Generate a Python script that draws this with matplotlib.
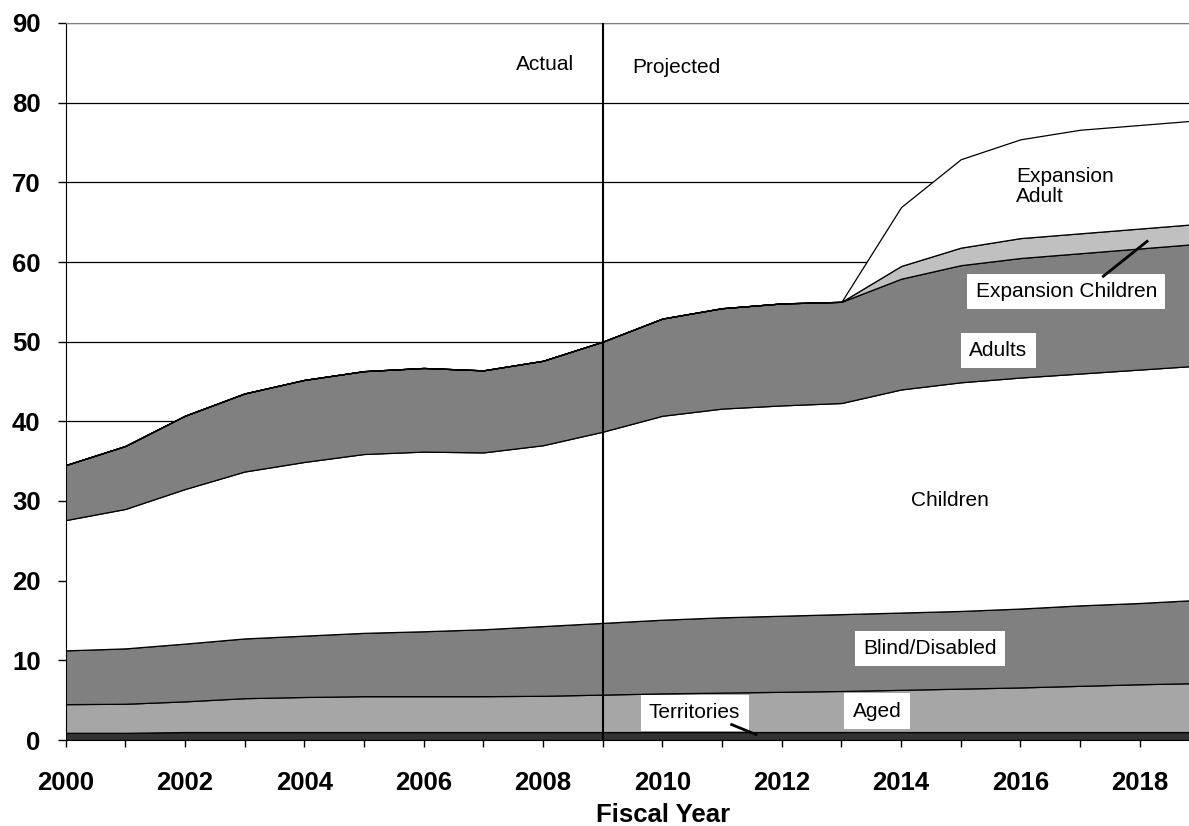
import matplotlib
matplotlib.use("Agg")
import matplotlib.pyplot as plt

years = list(range(2000, 2020))
territories = [0.9, 0.9, 1.0, 1.0, 1.0, 1.0, 1.0, 1.0, 1.0, 1.0,
               1.0, 1.0, 1.0, 1.0, 1.0, 1.0, 1.0, 1.0, 1.0, 1.0]
aged = [3.6, 3.65, 3.85, 4.25, 4.4, 4.5, 4.5, 4.5, 4.55, 4.7,
        4.85, 4.95, 5.05, 5.15, 5.3, 5.45, 5.6, 5.8, 6.0, 6.15]
blind_disabled = [6.75, 6.95, 7.25, 7.5, 7.7, 7.95, 8.15, 8.4, 8.75, 9.0,
                  9.25, 9.45, 9.55, 9.65, 9.7, 9.75, 9.9, 10.1, 10.2, 10.45]
children = [16.35, 17.5, 19.4, 20.95, 21.8, 22.45, 22.55, 22.2, 22.7, 24.0,
            25.6, 26.2, 26.4, 26.5, 28.0, 28.7, 29.0, 29.1, 29.3, 29.4]
adults = [6.9, 7.9, 9.2, 9.8, 10.3, 10.4, 10.5, 10.3, 10.6, 11.3,
          12.2, 12.6, 12.8, 12.7, 13.9, 14.7, 15.0, 15.1, 15.2, 15.3]
expansion_children = [0, 0, 0, 0, 0, 0, 0, 0, 0, 0,
                      0, 0, 0, 0, 1.6, 2.2, 2.5, 2.5, 2.5, 2.5]
expansion_adult = [0, 0, 0, 0, 0, 0, 0, 0, 0, 0,
                   0, 0, 0, 0, 7.4, 11.1, 12.4, 13.0, 13.0, 13.0]

series = [territories, aged, blind_disabled, children, adults,
          expansion_children, expansion_adult]
colors = ["#333333", "#a6a6a6", "#808080", "#ffffff", "#808080",
          "#c0c0c0", "#ffffff"]

x_ticks = list(range(2000, 2020))
x_labels = [str(y) if y % 2 == 0 else "" for y in x_ticks]
y_ticks = list(range(0, 100, 10))

plt.rcParams['font.family'] = ['Liberation Sans', 'DejaVu Sans']

fig = plt.figure(figsize=(11.89, 8.26), dpi=100)
ax = fig.add_axes([65.5/1189, 86/826, 1134/1189, 717/826])

ax.stackplot(years, *series, colors=colors, edgecolor="black", linewidth=0.9)

ax.set_xlim(2000, 2019)
ax.set_ylim(0, 90)
ax.set_yticks(y_ticks)
ax.set_xticks(x_ticks)
ax.set_xticklabels(x_labels)
ax.yaxis.grid(True, color="black", linewidth=0.9)
ax.set_axisbelow(True)

ax.tick_params(axis="x", direction="out", length=5, width=1, pad=17,
               labelsize=18.5)
ax.tick_params(axis="y", direction="out", length=6, width=1, pad=12,
               labelsize=18.5)
for lab in ax.get_xticklabels() + ax.get_yticklabels():
    lab.set_fontweight("bold")

ax.spines["top"].set_color("#808080")
ax.spines["right"].set_visible(False)
ax.spines["left"].set_color("black")
ax.spines["bottom"].set_color("black")

ax.axvline(2009, color="black", linewidth=1.5, zorder=5)

fig.text(663/1189, 11/826, "Fiscal Year", ha="center", va="center",
         fontsize=18.5, fontweight="bold")

ax.text(2008.04, 84.8, "Actual", ha="center", va="center", fontsize=15)
ax.text(2009.5, 84.4, "Projected", ha="left", va="center", fontsize=15)
ax.text(2015.93, 69.5, "Expansion\nAdult", ha="left", va="center",
        fontsize=15, linespacing=1.05)
ax.text(2014.82, 30.1, "Children", ha="center", va="center", fontsize=15)

box = dict(boxstyle="square,pad=0.4", facecolor="white", edgecolor="none")
ax.text(2016.77, 56.3, "Expansion Children", ha="center", va="center",
        fontsize=15, bbox=box, zorder=6)
ax.text(2015.63, 48.9, "Adults", ha="center", va="center", fontsize=15,
        bbox=box, zorder=6)
ax.text(2014.49, 11.5, "Blind/Disabled", ha="center", va="center",
        fontsize=15, bbox=box, zorder=6)
ax.text(2013.6, 3.6, "Aged", ha="center", va="center", fontsize=15,
        bbox=box, zorder=6)
ax.text(2010.54, 3.4, "Territories", ha="center", va="center", fontsize=15,
        bbox=box, zorder=6)

ax.plot([2011.14, 2011.59], [2.0, 0.63], color="black", linewidth=2, zorder=7,
        solid_capstyle="butt")
ax.plot([2017.37, 2018.14], [58.1, 62.7], color="black", linewidth=2,
        zorder=7, solid_capstyle="butt")

fig.savefig("out.png", dpi=100)
